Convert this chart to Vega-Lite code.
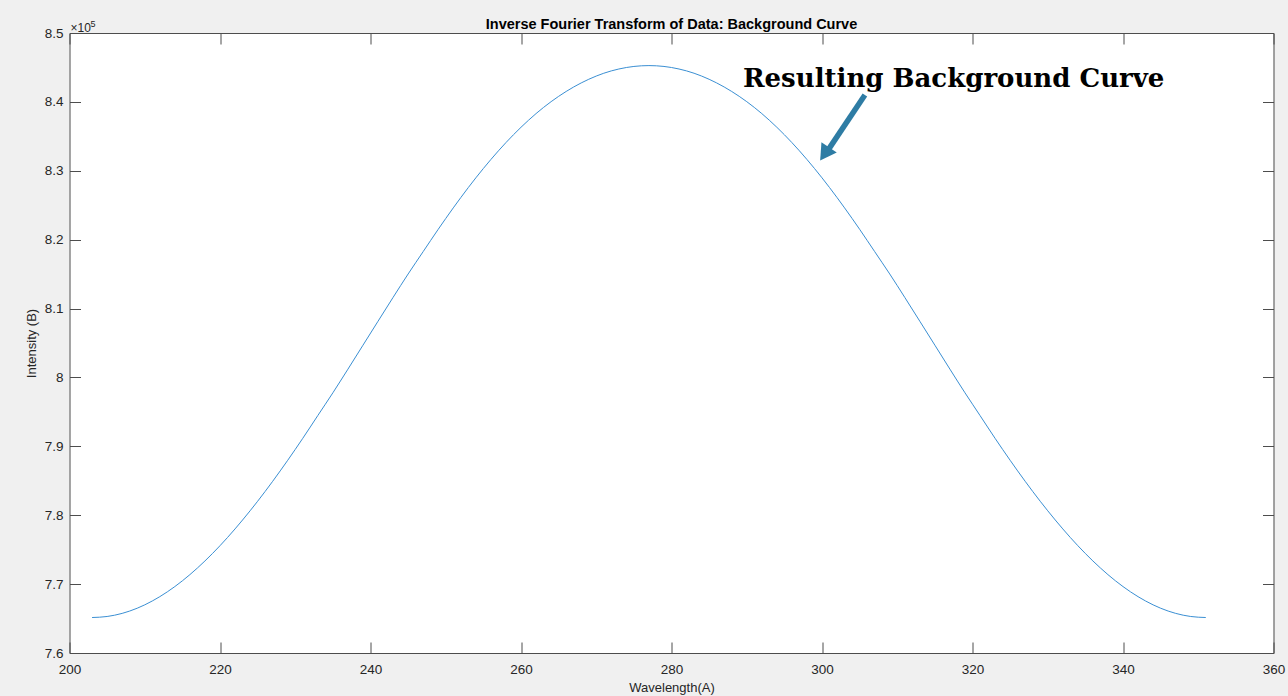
{
  "$schema": "https://vega.github.io/schema/vega-lite/v6.json",
  "width": 1204,
  "height": 620,
  "autosize": {"type": "none"},
  "padding": {"left": 69.5, "top": 33, "right": 14.5, "bottom": 43},
  "background": "#f0f0f0",
  "title": {
    "text": "Inverse Fourier Transform of Data: Background Curve",
    "font": "Liberation Sans",
    "fontSize": 14.5,
    "fontWeight": "bold",
    "color": "#000000",
    "anchor": "middle",
    "offset": -12
  },
  "datasets": {
    "curve": [
      {"wavelength": 203, "intensity": 765150},
      {"wavelength": 205, "intensity": 765299},
      {"wavelength": 207, "intensity": 765751},
      {"wavelength": 209, "intensity": 766502},
      {"wavelength": 211, "intensity": 767549},
      {"wavelength": 213, "intensity": 768876},
      {"wavelength": 215, "intensity": 770477},
      {"wavelength": 217, "intensity": 772339},
      {"wavelength": 219, "intensity": 774441},
      {"wavelength": 221, "intensity": 776767},
      {"wavelength": 223, "intensity": 779306},
      {"wavelength": 225, "intensity": 782027},
      {"wavelength": 227, "intensity": 784923},
      {"wavelength": 229, "intensity": 787977},
      {"wavelength": 231, "intensity": 791163},
      {"wavelength": 233, "intensity": 794472},
      {"wavelength": 235, "intensity": 797771},
      {"wavelength": 237, "intensity": 801203},
      {"wavelength": 239, "intensity": 804681},
      {"wavelength": 241, "intensity": 808159},
      {"wavelength": 243, "intensity": 811617},
      {"wavelength": 245, "intensity": 815019},
      {"wavelength": 247, "intensity": 818268},
      {"wavelength": 249, "intensity": 821507},
      {"wavelength": 251, "intensity": 824613},
      {"wavelength": 253, "intensity": 827567},
      {"wavelength": 255, "intensity": 830333},
      {"wavelength": 257, "intensity": 832894},
      {"wavelength": 259, "intensity": 835233},
      {"wavelength": 261, "intensity": 837339},
      {"wavelength": 263, "intensity": 839201},
      {"wavelength": 265, "intensity": 840803},
      {"wavelength": 267, "intensity": 842164},
      {"wavelength": 269, "intensity": 843281},
      {"wavelength": 271, "intensity": 844158},
      {"wavelength": 273, "intensity": 844774},
      {"wavelength": 275, "intensity": 845146},
      {"wavelength": 277, "intensity": 845270},
      {"wavelength": 279, "intensity": 845146},
      {"wavelength": 281, "intensity": 844774},
      {"wavelength": 283, "intensity": 844158},
      {"wavelength": 285, "intensity": 843281},
      {"wavelength": 287, "intensity": 842164},
      {"wavelength": 289, "intensity": 840803},
      {"wavelength": 291, "intensity": 839201},
      {"wavelength": 293, "intensity": 837339},
      {"wavelength": 295, "intensity": 835233},
      {"wavelength": 297, "intensity": 832894},
      {"wavelength": 299, "intensity": 830333},
      {"wavelength": 301, "intensity": 827567},
      {"wavelength": 303, "intensity": 824613},
      {"wavelength": 305, "intensity": 821507},
      {"wavelength": 307, "intensity": 818268},
      {"wavelength": 309, "intensity": 815019},
      {"wavelength": 311, "intensity": 811617},
      {"wavelength": 313, "intensity": 808159},
      {"wavelength": 315, "intensity": 804681},
      {"wavelength": 317, "intensity": 801203},
      {"wavelength": 319, "intensity": 797771},
      {"wavelength": 321, "intensity": 794472},
      {"wavelength": 323, "intensity": 791163},
      {"wavelength": 325, "intensity": 787977},
      {"wavelength": 327, "intensity": 784923},
      {"wavelength": 329, "intensity": 782027},
      {"wavelength": 331, "intensity": 779306},
      {"wavelength": 333, "intensity": 776767},
      {"wavelength": 335, "intensity": 774441},
      {"wavelength": 337, "intensity": 772339},
      {"wavelength": 339, "intensity": 770477},
      {"wavelength": 341, "intensity": 768876},
      {"wavelength": 343, "intensity": 767549},
      {"wavelength": 345, "intensity": 766502},
      {"wavelength": 347, "intensity": 765751},
      {"wavelength": 349, "intensity": 765299},
      {"wavelength": 351, "intensity": 765150}
    ],
    "arrow": [
      {"x": 305.7, "y": 841000, "x2": 300.8, "y2": 833000}
    ],
    "arrowhead": [
      {"x": 300.35, "y": 832450}
    ],
    "note": [
      {"x": 317.5, "y": 842161, "label": "Resulting Background Curve"}
    ],
    "exponent": [
      {"x": 200, "y": 850000, "base": "×10", "power": "5"}
    ]
  },
  "layer": [
    {
      "data": {"name": "curve"},
      "mark": {"type": "line", "color": "#3a8fd3", "strokeWidth": 1, "interpolate": "monotone"},
      "encoding": {
        "x": {
          "field": "wavelength",
          "type": "quantitative",
          "scale": {"domain": [200, 360], "nice": false, "zero": false},
          "axis": {
            "orient": "bottom",
            "values": [200, 220, 240, 260, 280, 300, 320, 340, 360],
            "title": "Wavelength(A)",
            "tickSize": -11,
            "labelPadding": 20,
            "titlePadding": 6,
            "grid": false
          }
        },
        "y": {
          "field": "intensity",
          "type": "quantitative",
          "scale": {"domain": [760000, 850000], "nice": false, "zero": false},
          "axis": {
            "orient": "left",
            "values": [760000, 770000, 780000, 790000, 800000, 810000, 820000, 830000, 840000, 850000],
            "labelExpr": "format(datum.value / 100000, '.1~f')",
            "title": "Intensity (B)",
            "tickSize": -11,
            "labelPadding": 17.5,
            "titlePadding": 6,
            "grid": false
          }
        }
      }
    },
    {
      "data": {"name": "arrow"},
      "mark": {"type": "rule", "color": "#2e7ca4", "strokeWidth": 5.5},
      "encoding": {
        "x": {
          "field": "x",
          "type": "quantitative",
          "scale": {"domain": [200, 360], "nice": false, "zero": false},
          "axis": {
            "orient": "top",
            "values": [200, 220, 240, 260, 280, 300, 320, 340, 360],
            "labels": false,
            "title": null,
            "tickSize": -11,
            "grid": false
          }
        },
        "y": {
          "field": "y",
          "type": "quantitative",
          "scale": {"domain": [760000, 850000], "nice": false, "zero": false},
          "axis": {
            "orient": "right",
            "values": [760000, 770000, 780000, 790000, 800000, 810000, 820000, 830000, 840000, 850000],
            "labels": false,
            "title": null,
            "tickSize": -11,
            "grid": false
          }
        },
        "x2": {"field": "x2"},
        "y2": {"field": "y2"}
      }
    },
    {
      "data": {"name": "arrowhead"},
      "mark": {"type": "point", "shape": "triangle-up", "filled": true, "color": "#2e7ca4", "opacity": 1, "size": 340, "angle": 214},
      "encoding": {
        "x": {"field": "x", "type": "quantitative", "axis": null},
        "y": {"field": "y", "type": "quantitative", "axis": null}
      }
    },
    {
      "data": {"name": "note"},
      "mark": {"type": "text", "font": "DejaVu Serif", "fontWeight": "bold", "fontSize": 26, "color": "#000000", "align": "center", "baseline": "alphabetic"},
      "encoding": {
        "x": {"field": "x", "type": "quantitative", "axis": null},
        "y": {"field": "y", "type": "quantitative", "axis": null},
        "text": {"field": "label"}
      }
    },
    {
      "data": {"name": "exponent"},
      "mark": {"type": "text", "font": "Liberation Sans", "fontSize": 12, "color": "#262626", "align": "left", "baseline": "alphabetic", "dx": 1, "dy": -1},
      "encoding": {
        "x": {"field": "x", "type": "quantitative", "axis": null},
        "y": {"field": "y", "type": "quantitative", "axis": null},
        "text": {"field": "base"}
      }
    },
    {
      "data": {"name": "exponent"},
      "mark": {"type": "text", "font": "Liberation Sans", "fontSize": 9, "color": "#262626", "align": "left", "baseline": "alphabetic", "dx": 21, "dy": -6},
      "encoding": {
        "x": {"field": "x", "type": "quantitative", "axis": null},
        "y": {"field": "y", "type": "quantitative", "axis": null},
        "text": {"field": "power"}
      }
    }
  ],
  "resolve": {"axis": {"x": "independent", "y": "independent"}},
  "config": {
    "view": {"fill": "#ffffff", "stroke": null},
    "axis": {
      "domainColor": "#4d4d4d",
      "domainWidth": 1,
      "tickColor": "#4d4d4d",
      "tickWidth": 1,
      "labelFont": "Liberation Sans",
      "labelFontSize": 13.5,
      "labelColor": "#262626",
      "labelFlush": false,
      "labelOverlap": false,
      "titleFont": "Liberation Sans",
      "titleFontSize": 13,
      "titleFontWeight": "normal",
      "titleColor": "#262626"
    }
  }
}
